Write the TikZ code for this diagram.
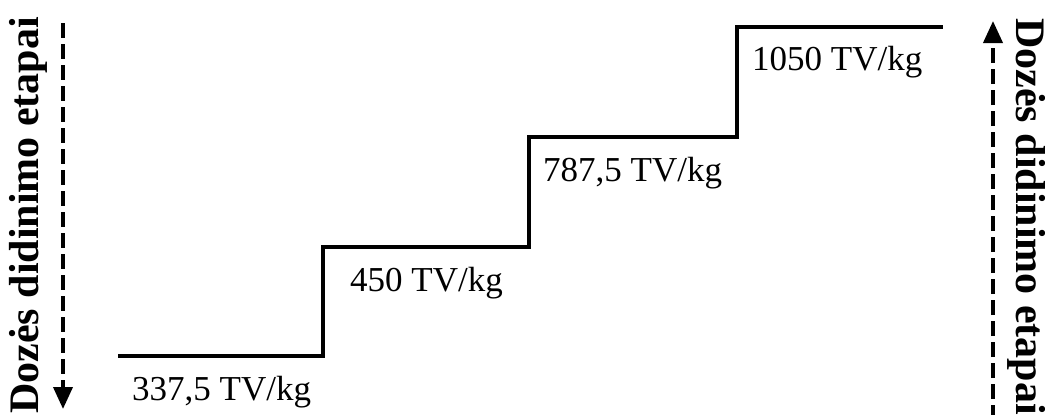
\documentclass[tikz,border=0pt]{standalone}
\usepackage{fontspec}
\setmainfont{Liberation Serif}
\usetikzlibrary{arrows.meta}

\tikzset{
  stair/.style={line width=3.4pt},
  doselabel/.style={anchor=west, inner sep=0pt, font=\fontsize{35}{40}\selectfont},
  stagetext/.style={inner sep=0pt, font=\fontsize{42}{46}\selectfont\bfseries},
  stagearrow/.style={line width=3.8pt, dash pattern=on 15pt off 6pt,
    -{Triangle[length=22pt,width=19pt]}}
}

\begin{document}
\begin{tikzpicture}[x=1pt, y=-1pt]
    \useasboundingbox (0,0) rectangle (1045,415);

    % stairs
    \coordinate (t0) at (118,356);
    \coordinate (c1) at (323,356);
    \coordinate (t1) at (323,247);
    \coordinate (c2) at (529,247);
    \coordinate (t2) at (529,137);
    \coordinate (c3) at (737,137);
    \coordinate (t3) at (737,27);
    \coordinate (t4) at (943,27);
    \draw[stair] (t0) -- (c1) -- (t1) -- (c2) -- (t2) -- (c3) -- (t3) -- (t4);

    \node[doselabel] (dose1) at (132,392) {337,5 TV/kg};
    \node[doselabel] (dose2) at (350,283) {450 TV/kg};
    \node[doselabel] (dose3) at (543,173) {787,5 TV/kg};
    \node[doselabel] (dose4) at (752,62) {1050 TV/kg};

    % left side
    \node[stagetext, rotate=90, anchor=west] (stageL) at (28,414) {Dozės didinimo etapai};
    \coordinate (arrLtop) at (63,23);
    \coordinate (arrLbot) at (63,409);
    \draw[stagearrow] (arrLtop) -- (arrLbot);

    % right side
    \node[stagetext, rotate=-90, anchor=west] (stageR) at (1027,18) {Dozės didinimo etapai};
    \coordinate (arrRbot) at (993,420);
    \coordinate (arrRtop) at (993,21);
    \draw[stagearrow] (arrRbot) -- (arrRtop);
\end{tikzpicture}
\end{document}
